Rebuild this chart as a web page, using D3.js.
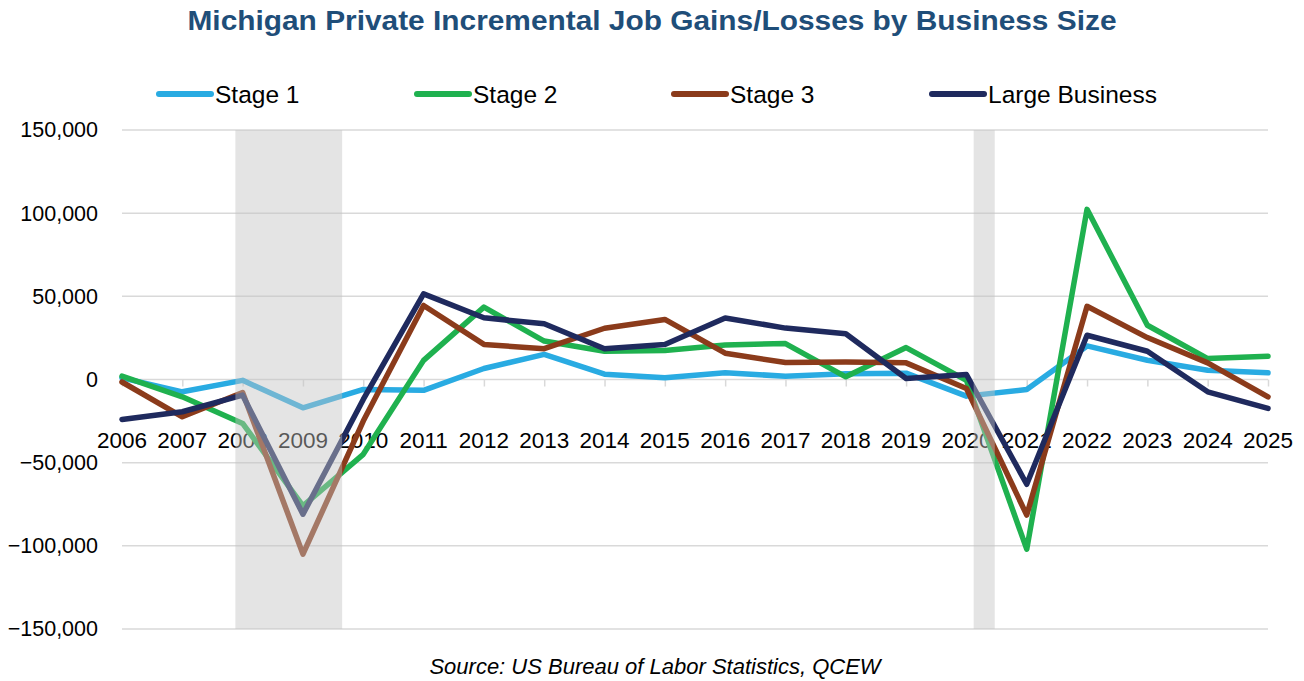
<!DOCTYPE html>
<html>
<head>
<meta charset="utf-8">
<script src="https://cdn.jsdelivr.net/npm/d3@7"></script>
<style>
  html, body { margin: 0; padding: 0; background: #ffffff; }
  svg { display: block; }
  text { font-family: "Liberation Sans", Arial, sans-serif; }
</style>
</head>
<body>
<svg id="chart" width="1304" height="681"></svg>
<script>
// Years on the category axis
const years = [2006, 2007, 2008, 2009, 2010, 2011, 2012, 2013, 2014, 2015,
               2016, 2017, 2018, 2019, 2020, 2021, 2022, 2023, 2024, 2025];

// Incremental private job gains/losses by business size
const stage1 = [1000, -7400, -500, -17000, -6000, -6500, 6600, 15100, 3200, 1000,
                4000, 2000, 3400, 3800, -10000, -6000, 20200, 11600, 5600, 4000];
const stage2 = [2000, -10400, -26400, -76000, -45000, 11500, 43500, 23100, 17000, 17500,
                20800, 21600, 1600, 19200, -500, -102000, 102300, 32600, 12600, 14000];
const stage3 = [-1500, -22400, -7800, -105000, -25000, 44500, 21100, 18500, 30800, 36100,
                15800, 10200, 10500, 10000, -5400, -81500, 44000, 25200, 10000, -10400];
const largeBusiness = [-24000, -19400, -9400, -81000, -12000, 51500, 37100, 33500, 18500, 21100,
                       37000, 30900, 27500, 600, 3000, -63000, 26600, 17000, -7400, -17400];

const seriesNames = ["Stage 1", "Stage 2", "Stage 3", "Large Business"];
const seriesColors = ["#29abe2", "#1fb14f", "#8b3b1b", "#1f2a5e"];
const seriesValues = [stage1, stage2, stage3, largeBusiness];

// Y-axis ticks
const yTicks = [150000, 100000, 50000, 0, -50000, -100000, -150000];

// Recession periods in fractional years
const recessions = [[2007.88, 2009.65], [2020.12, 2020.47]];

const svg = d3.select("#chart");

const x = d3.scalePoint().domain(years).range([122, 1268]).padding(0);
const y = d3.scaleLinear().domain([-150000, 150000]).range([629, 130]);
const step = x(years[1]) - x(years[0]);
const xFrac = v => x(years[0]) + (v - years[0]) * step;

// Title
svg.append("text")
  .attr("x", 652).attr("y", 30)
  .attr("text-anchor", "middle")
  .attr("font-size", 27.5)
  .attr("font-weight", "bold")
  .attr("fill", "#1f4e79")
  .attr("textLength", 929)
  .attr("lengthAdjust", "spacingAndGlyphs")
  .text("Michigan Private Incremental Job Gains/Losses by Business Size");

// Horizontal gridlines and y labels
const yAxis = d3.axisLeft(y).tickValues(yTicks).tickSize(0).tickPadding(0)
  .tickFormat(d3.format(","));
const gy = svg.append("g").attr("transform", "translate(98,0)").call(yAxis);
gy.select(".domain").remove();
gy.selectAll("text").attr("font-size", 21.5).attr("fill", "#000")
  .attr("font-family", "'Liberation Sans', Arial, sans-serif");

svg.append("g").selectAll("line").data(yTicks).join("line")
  .attr("x1", 122).attr("x2", 1268)
  .attr("y1", d => y(d)).attr("y2", d => y(d))
  .attr("stroke", "#d9d9d9").attr("stroke-width", 1.5);

// Category ticks hanging from the zero line
const xAxis = d3.axisBottom(x).tickSize(7).tickPadding(0).tickFormat("");
const gx = svg.append("g").attr("transform", `translate(0,${y(0)})`).call(xAxis);
gx.select(".domain").remove();
gx.selectAll("line").attr("stroke", "#d9d9d9").attr("stroke-width", 1.5);

// Year labels
svg.append("g").selectAll("text").data(years).join("text")
  .attr("x", d => x(d)).attr("y", 448)
  .attr("text-anchor", "middle")
  .attr("font-size", 22.5).attr("fill", "#000")
  .text(d => d);

// Series lines
const line = d3.line().x((d, i) => x(years[i])).y(d => y(d));
svg.append("g").selectAll("path").data(seriesValues).join("path")
  .attr("d", d => line(d))
  .attr("fill", "none")
  .attr("stroke", (d, i) => seriesColors[i])
  .attr("stroke-width", 5.5)
  .attr("stroke-linejoin", "round")
  .attr("stroke-linecap", "round");

// Recession shading over the lines
svg.append("g").selectAll("rect").data(recessions).join("rect")
  .attr("x", d => xFrac(d[0]))
  .attr("width", d => xFrac(d[1]) - xFrac(d[0]))
  .attr("y", y(150000))
  .attr("height", y(-150000) - y(150000))
  .attr("fill", "rgb(195,195,195)")
  .attr("fill-opacity", 0.45);

// Legend
const legendX = [157, 415, 672, 930];
const lg = svg.append("g").selectAll("g").data(seriesNames).join("g")
  .attr("transform", (d, i) => `translate(${legendX[i]},94)`);
lg.append("line")
  .attr("x1", 2).attr("x2", 54).attr("y1", 0).attr("y2", 0)
  .attr("stroke", (d, i) => seriesColors[i])
  .attr("stroke-width", 6).attr("stroke-linecap", "round");
lg.append("text")
  .attr("x", 58).attr("y", 8.5)
  .attr("font-size", 24.5).attr("fill", "#000")
  .text(d => d);

// Source note
svg.append("text")
  .attr("x", 655).attr("y", 674)
  .attr("text-anchor", "middle")
  .attr("font-size", 22)
  .attr("font-style", "italic")
  .attr("fill", "#000")
  .text("Source: US Bureau of Labor Statistics, QCEW");
</script>
</body>
</html>
